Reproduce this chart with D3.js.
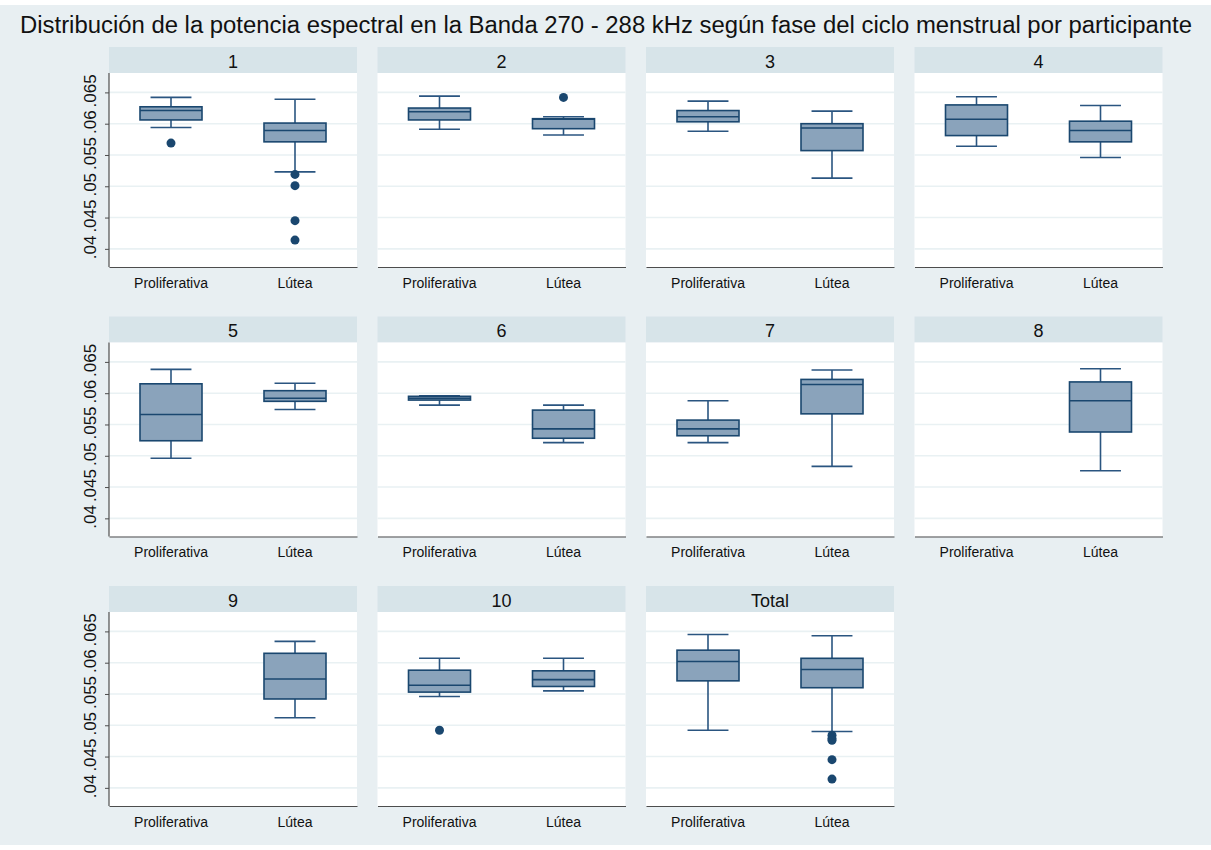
<!DOCTYPE html>
<html>
<head>
<meta charset="utf-8">
<script src="https://cdn.jsdelivr.net/npm/d3@7"></script>
<style>
  html, body { margin: 0; padding: 0; background: #ffffff; }
  svg { display: block; font-family: "Liberation Sans", Arial, Helvetica, sans-serif; }
</style>
</head>
<body>
<svg id="chart" width="1211" height="850"></svg>
<script>
// ---- data ---------------------------------------------------------------
const title = "Distribución de la potencia espectral en la Banda 270 - 288 kHz según fase del ciclo menstrual por participante";
const panels = ["1", "2", "3", "4", "5", "6", "7", "8", "9", "10", "Total"];
const phases = ["Proliferativa", "Lútea"];
const yTicks = [0.04, 0.045, 0.05, 0.055, 0.06, 0.065];
const yTickLabels = [".04", ".045", ".05", ".055", ".06", ".065"];

// box statistics per panel: [lower whisker, Q1, median, Q3, upper whisker]
const proliferativaBox = [
  [0.0594, 0.0606, 0.0621, 0.0627, 0.0642],
  [0.0591, 0.0606, 0.0619, 0.0625, 0.0644],
  [0.0588, 0.0603, 0.0611, 0.0621, 0.0636],
  [0.0564, 0.0581, 0.0607, 0.0630, 0.0643],
  [0.0496, 0.0524, 0.0566, 0.0615, 0.0638],
  [0.0581, 0.0589, 0.0592, 0.0595, 0.0596],
  [0.0521, 0.0532, 0.0543, 0.0557, 0.0588],
  null,
  null,
  [0.0546, 0.0553, 0.0564, 0.0588, 0.0607],
  [0.0492, 0.0571, 0.0602, 0.0620, 0.0645]
];
const luteaBox = [
  [0.0523, 0.0571, 0.0589, 0.0601, 0.0639],
  [0.0582, 0.0592, 0.0607, 0.0608, 0.0611],
  [0.0513, 0.0557, 0.0593, 0.0600, 0.0620],
  [0.0546, 0.0571, 0.0589, 0.0604, 0.0629],
  [0.0574, 0.0587, 0.0592, 0.0604, 0.0616],
  [0.0521, 0.0528, 0.0543, 0.0573, 0.0581],
  [0.0483, 0.0567, 0.0614, 0.0622, 0.0637],
  [0.0476, 0.0538, 0.0588, 0.0618, 0.0639],
  [0.0512, 0.0542, 0.0574, 0.0615, 0.0634],
  [0.0555, 0.0562, 0.0573, 0.0587, 0.0607],
  [0.0490, 0.0560, 0.0589, 0.0607, 0.0643]
];
// outside values per panel
const proliferativaOutliers = [
  [0.0569], [], [], [], [], [], [], [], [], [0.0492], []
];
const luteaOutliers = [
  [0.0519, 0.0501, 0.0445, 0.0414], [0.0642], [], [], [], [], [], [], [], [],
  [0.0484, 0.0479, 0.0476, 0.0445, 0.0414]
];

// ---- layout ---------------------------------------------------------------
const nCols = 4;
const colLeft = 109, colStep = 268.5, panelW = 248;
const rowTop = 47, rowStep = 269.5, stripH = 26, plotH = 194;

const colors = {
  background: "#e8eff2",
  strip: "#d7e4e9",
  grid: "#e9f1f3",
  axis: "#4d4d4d",
  boxFill: "#8aa3bb",
  boxLine: "#1a476f",
  whisker: "#2a5580",
  marker: "#1a476f",
  text: "#111111"
};

const svg = d3.select("#chart");

svg.append("rect")
  .attr("x", 0).attr("y", 5)
  .attr("width", 1211).attr("height", 840)
  .attr("fill", colors.background);

const titleText = svg.append("text")
  .attr("x", 606).attr("y", 33)
  .attr("text-anchor", "middle")
  .attr("font-size", 21)
  .attr("fill", colors.text)
  .text(title);
// fit the title to its line width
const tw = titleText.node().getComputedTextLength();
titleText.attr("font-size", 21 * 1173 / tw);

const y = d3.scaleLinear().domain([0.0371, 0.0681]).range([plotH, 0]);
const x = d3.scaleBand().domain(phases).range([0, panelW]).paddingInner(0.5).paddingOuter(0.25);

panels.forEach((name, i) => {
  const col = i % nCols, row = Math.floor(i / nCols);
  const px = colLeft + col * colStep;
  const py = rowTop + row * rowStep;
  const g = svg.append("g").attr("transform", `translate(${px},${py})`);

  // strip with the panel label
  g.append("rect")
    .attr("width", panelW).attr("height", stripH)
    .attr("fill", colors.strip);
  g.append("text")
    .attr("x", panelW / 2).attr("y", 20.5)
    .attr("text-anchor", "middle")
    .attr("font-size", 18)
    .attr("fill", colors.text)
    .text(name);

  const p = g.append("g").attr("transform", `translate(0,${stripH})`);
  p.append("rect")
    .attr("width", panelW).attr("height", plotH)
    .attr("fill", "#ffffff");

  // horizontal grid
  p.selectAll("line.grid").data(yTicks).join("line")
    .attr("class", "grid")
    .attr("x1", 0).attr("x2", panelW)
    .attr("y1", d => y(d)).attr("y2", d => y(d))
    .attr("stroke", colors.grid)
    .attr("stroke-width", 1.6);

  // y axis on the first column only
  if (col === 0) {
    const ax = p.append("g")
      .call(d3.axisLeft(y).tickValues(yTicks).tickSize(4).tickPadding(0)
        .tickFormat((d, k) => yTickLabels[k]));
    ax.select(".domain").attr("stroke", colors.axis).attr("stroke-width", 1.2)
      .attr("d", `M0,0V${plotH}`);
    ax.selectAll(".tick line").attr("stroke", colors.axis);
    ax.selectAll(".tick text")
      .attr("x", null).attr("dy", null)
      .attr("text-anchor", "middle")
      .attr("transform", "translate(-13.5,-2) rotate(-90)")
      .attr("font-size", 17)
      .attr("font-family", "Liberation Sans, Arial, sans-serif")
      .attr("fill", colors.text);
  }

  // x axis
  const xa = p.append("g")
    .attr("transform", `translate(0,${plotH})`)
    .call(d3.axisBottom(x).tickSize(0).tickPadding(11));
  xa.select(".domain").attr("stroke", colors.axis).attr("stroke-width", 1.2);
  xa.selectAll(".tick text")
    .attr("font-size", 14)
    .attr("font-family", "Liberation Sans, Arial, sans-serif")
    .attr("fill", colors.text);

  const groups = [
    { phase: phases[0], box: proliferativaBox[i], out: proliferativaOutliers[i] },
    { phase: phases[1], box: luteaBox[i], out: luteaOutliers[i] }
  ];

  groups.forEach(gr => {
    if (!gr.box) return;
    const [lo, q1, med, q3, hi] = gr.box;
    const bx = x(gr.phase), bw = x.bandwidth(), cx = bx + bw / 2;
    const capW = bw * 0.66;

    // whiskers and caps
    const w = p.append("g")
      .attr("stroke", colors.whisker)
      .attr("stroke-width", 1.6);
    w.append("line").attr("x1", cx).attr("x2", cx).attr("y1", y(hi)).attr("y2", y(q3));
    w.append("line").attr("x1", cx).attr("x2", cx).attr("y1", y(q1)).attr("y2", y(lo));
    w.append("line").attr("x1", cx - capW / 2).attr("x2", cx + capW / 2).attr("y1", y(hi)).attr("y2", y(hi));
    w.append("line").attr("x1", cx - capW / 2).attr("x2", cx + capW / 2).attr("y1", y(lo)).attr("y2", y(lo));

    // box and median
    const b = p.append("g")
      .attr("stroke", colors.boxLine)
      .attr("stroke-width", 1.6);
    b.append("rect")
      .attr("x", bx).attr("y", y(q3))
      .attr("width", bw).attr("height", y(q1) - y(q3))
      .attr("fill", colors.boxFill);
    b.append("line").attr("x1", bx).attr("x2", bx + bw).attr("y1", y(med)).attr("y2", y(med));

    // outside values
    p.selectAll(null).data(gr.out).join("circle")
      .attr("cx", cx).attr("cy", d => y(d))
      .attr("r", 4.5)
      .attr("fill", colors.marker);
  });
});
</script>
</body>
</html>
